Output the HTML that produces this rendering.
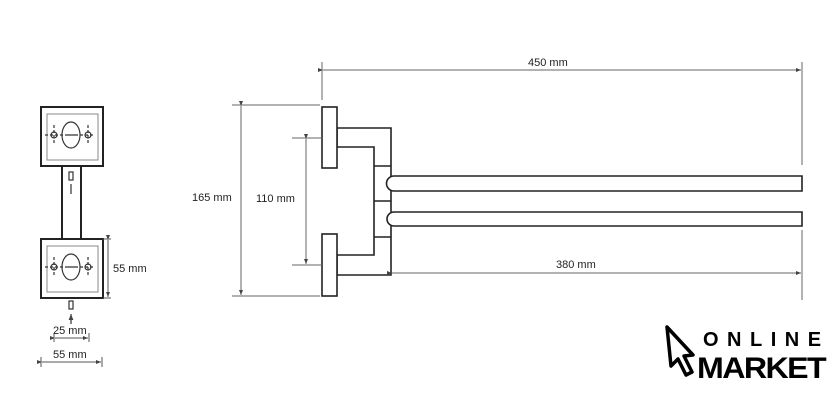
<!DOCTYPE html>
<html><head><style>body{margin:0;background:#fff}svg{display:block}text{font-family:"Liberation Sans",sans-serif;fill:#222}</style></head><body>
<svg width="840" height="412" viewBox="0 0 840 412" xmlns="http://www.w3.org/2000/svg">
<defs><marker id="a" markerWidth="6" markerHeight="6" refX="5" refY="3" orient="auto"><path d="M0,1 L5,3 L0,5Z" fill="#444"/></marker></defs>
<g fill="none" stroke="#222" stroke-width="2">
<rect x="41" y="107" width="62" height="59"/>
<rect x="41" y="239" width="62" height="59"/>
<rect x="62" y="166" width="19" height="73"/>
</g>
<g fill="none" stroke="#888" stroke-width="1">
<rect x="47" y="114" width="51" height="46"/>
<rect x="47" y="246" width="51" height="46"/>
</g>
<g fill="none" stroke="#333" stroke-width="1.2">
<ellipse cx="71" cy="135" rx="9" ry="13"/><ellipse cx="71" cy="267" rx="9" ry="13"/>
<circle cx="54" cy="135" r="3"/><circle cx="88" cy="135" r="3"/>
<circle cx="54" cy="267" r="3"/><circle cx="88" cy="267" r="3"/>
<path d="M67,135h8M67,267h8M45,135h50M45,267h50M54,125v20M88,125v20M54,257v20M88,257v20" stroke-dasharray="3,2"/>
<rect x="69" y="172" width="4" height="8"/><rect x="69" y="301" width="4" height="8"/>
<path d="M71,194v-10M71,324v-10" marker-end="url(#a)"/>
</g>
<g stroke="#555" stroke-width="1" fill="none">
<path d="M108,240v57" marker-start="url(#a)" marker-end="url(#a)"/>
<path d="M103,239h8M103,298h8"/>
<path d="M55,338h33" marker-start="url(#a)" marker-end="url(#a)"/>
<path d="M54,333v9M89,333v9M41,357v10M102,357v10"/>
<path d="M42,362h59" marker-start="url(#a)" marker-end="url(#a)"/>
</g>
<text x="113" y="272" font-size="11">55 mm</text>
<text x="53" y="334" font-size="11">25 mm</text>
<text x="53" y="358" font-size="11">55 mm</text>
<g fill="#fff" stroke="#222" stroke-width="1.6">
<path d="M337,128H391V275H337V255H374V147H337Z"/>
<path d="M374,166H391M374,201H391M374,237H391" fill="none"/>
<path d="M394,176H802V191H394A7.5,7.5 0 0 1 394,176Z"/>
<path d="M394,212H802V226H394A7,7 0 0 1 394,212Z"/>
<rect x="322" y="107" width="15" height="61"/>
<rect x="322" y="234" width="15" height="62"/>
</g>
<g stroke="#666" stroke-width="1" fill="none">
<path d="M232,105h88M232,296h88M292,138h30M292,265h30M322,62v38M802,62v103M802,230v70"/>
<path d="M241,106v189" marker-start="url(#a)" marker-end="url(#a)"/>
<path d="M306,139v125" marker-start="url(#a)" marker-end="url(#a)"/>
<path d="M323,70h478" marker-start="url(#a)" marker-end="url(#a)"/>
<path d="M392,273h409" marker-start="url(#a)" marker-end="url(#a)"/>
</g>
<text x="192" y="201" font-size="11">165 mm</text>
<text x="256" y="202" font-size="11">110 mm</text>
<text x="528" y="66" font-size="11">450 mm</text>
<text x="556" y="268" font-size="11">380 mm</text>
<path d="M667,327 L693,355 L684,356 L692,372 L686,375 L678,359 L671,366 Z" fill="#fff" stroke="#000" stroke-width="3.5" stroke-linejoin="round"/>
<text x="703" y="346" font-size="20" font-weight="bold" letter-spacing="8.5" style="fill:#000">ONLINE</text>
<text x="697" y="378" font-size="30" font-weight="bold" letter-spacing="-1.5" style="fill:#000" textLength="128" lengthAdjust="spacingAndGlyphs">MARKET</text>
</svg>
</body></html>
